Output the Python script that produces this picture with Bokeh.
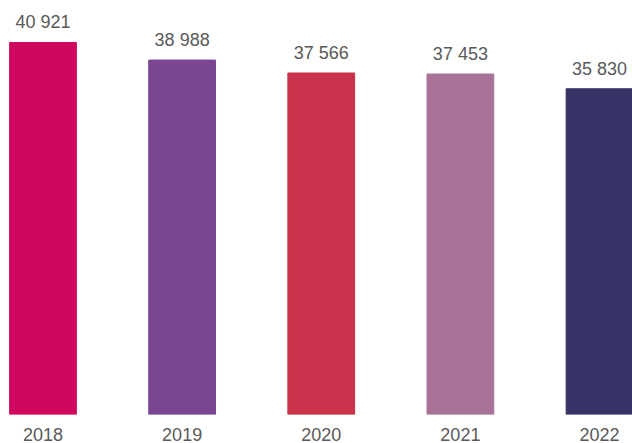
from bokeh.plotting import figure
from bokeh.models import ColumnDataSource, FixedTicker, Range1d
from bokeh.core.properties import value
from bokeh.embed import file_html
from bokeh.resources import INLINE

years = ["2018", "2019", "2020", "2021", "2022"]
values = [40921, 38988, 37566, 37453, 35830]
colors = ["#D0075F", "#7B4690", "#C9324A", "#A97399", "#373366"]

xs = list(range(len(years)))
labels = [f"{v:,}".replace(",", " ") for v in values]

src = ColumnDataSource(dict(x=xs, top=values, color=colors, label=labels))

p = figure(width=632, height=449, output_backend="svg", toolbar_location=None,
           x_range=Range1d(-0.3055, 4.237), y_range=Range1d(0, 45541),
           min_border_top=0, min_border_left=0, min_border_right=0, min_border_bottom=35)
p.vbar(x="x", top="top", width=0.48, color="color", source=src)
p.text(x="x", y="top", text="label", source=src, text_align="center",
       text_baseline="alphabetic", y_offset=-20, text_font_size="18px",
       text_color="#595959", text_font=value("Liberation Sans"))

p.yaxis.visible = False
p.xgrid.visible = False
p.ygrid.visible = False
p.outline_line_color = None
p.xaxis.ticker = FixedTicker(ticks=xs)
p.xaxis.major_label_overrides = {i: y for i, y in zip(xs, years)}
p.xaxis.axis_line_color = None
p.xaxis.major_tick_line_color = None
p.xaxis.minor_tick_line_color = None
p.xaxis.major_tick_out = 0
p.xaxis.major_label_standoff = 13
p.xaxis.major_label_text_font_size = "18px"
p.xaxis.major_label_text_color = "#595959"
p.xaxis.major_label_text_font = "Liberation Sans"

open("out.html", "w").write(file_html(p, INLINE))
